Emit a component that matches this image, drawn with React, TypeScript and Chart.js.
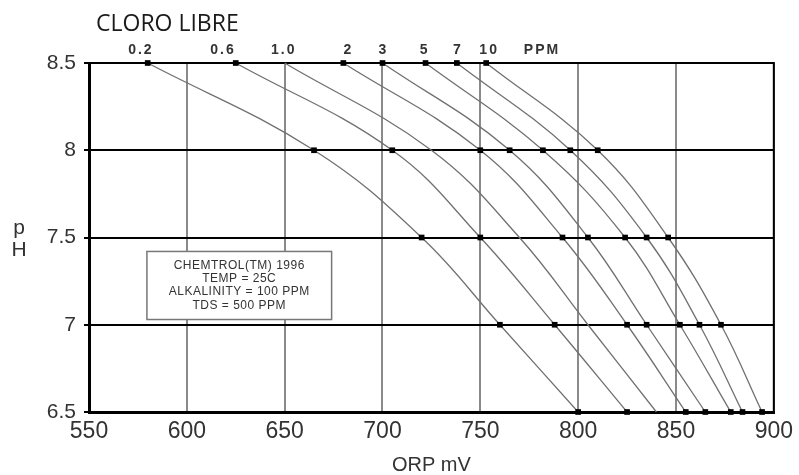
import React, { useEffect, useRef } from "react";
import { Chart, registerables } from "chart.js";

Chart.register(...registerables);

// pH rows (y) shared by every curve
const phLevels = [8.5, 8, 7.5, 7, 6.5];

// Free chlorine curves: ORP (mV) where each curve crosses each pH row
const seriesLabels = ["0.2", "0.6", "1.0", "2", "3", "5", "7", "10"];
const orp02 = [580, 665, 720, 760, 800];
const orp06 = [625, 705, 750, 788, 825];
const orp10 = [650, 725, 770, 805, 840];
const orp2 = [680, 750, 792, 825, 855];
const orp3 = [700, 765, 805, 835, 865];
const orp5 = [722, 782, 824, 852, 878];
const orp7 = [738, 796, 835, 862, 884];
const orp10ppm = [753, 810, 846, 873, 894];
const seriesValues = [orp02, orp06, orp10, orp2, orp3, orp5, orp7, orp10ppm];
const seriesMarked = [true, true, false, true, true, true, true, true];

// Top labels (ppm) and their ORP positions
const ppmTopLabels = ["0.2", "0.6", "1.0", "2", "3", "5", "7", "10", "PPM"];
const ppmTopX = [576, 618, 649, 682, 700, 721, 738, 754, 781];

// Axis ticks
const xMin = 550;
const xMax = 900;
const xStep = 50;
const yMin = 6.5;
const yMax = 8.5;
const yStep = 0.5;

const titleText = "CLORO LIBRE";
const xTitle = "ORP mV";
const yTitleLetters = ["p", "H"];
const noteLines = ["CHEMTROL(TM) 1996", "TEMP = 25C", "ALKALINITY = 100 PPM", "TDS = 500 PPM"];
// note box corners in data coordinates
const noteBoxX = [579.6, 674];
const noteBoxY = [7.42, 7.03];

export default function App() {
  const ref = useRef<HTMLCanvasElement | null>(null);

  useEffect(() => {
    const canvas = ref.current;
    if (!canvas) return;

    const decor = {
      id: "decor",
      beforeDatasetsDraw(chart: any) {
        const { ctx, chartArea } = chart;
        ctx.save();
        ctx.strokeStyle = "#000";
        ctx.lineWidth = 2;
        ctx.beginPath();
        ctx.moveTo(chartArea.left, chartArea.top);
        ctx.lineTo(chartArea.right, chartArea.top);
        ctx.lineTo(chartArea.right, chartArea.bottom);
        ctx.stroke();
        // note box
        const xs = chart.scales.x;
        const ys = chart.scales.y;
        const l = xs.getPixelForValue(noteBoxX[0]);
        const r = xs.getPixelForValue(noteBoxX[1]);
        const t = ys.getPixelForValue(noteBoxY[0]);
        const b = ys.getPixelForValue(noteBoxY[1]);
        ctx.fillStyle = "#fff";
        ctx.fillRect(l, t, r - l, b - t);
        ctx.strokeStyle = "#777";
        ctx.lineWidth = 1.5;
        ctx.strokeRect(l, t, r - l, b - t);
        ctx.fillStyle = "#333";
        ctx.font = "12px 'Liberation Sans', Arial, sans-serif";
        (ctx as any).letterSpacing = "0.5px";
        ctx.textAlign = "center";
        ctx.textBaseline = "middle";
        const cx = (l + r) / 2;
        const lh = 13.3;
        const startY = (t + b) / 2 - (lh * (noteLines.length - 1)) / 2;
        noteLines.forEach((s, i) => ctx.fillText(s, cx, startY + i * lh));
        ctx.restore();
      },
      afterDraw(chart: any) {
        const { ctx } = chart;
        const xs = chart.scales.x;
        ctx.save();
        ctx.fillStyle = "#1a1a1a";
        ctx.font = "23px 'Open Sans', sans-serif";
        ctx.textAlign = "left";
        ctx.textBaseline = "middle";
        ctx.fillText(titleText, 96, 24);

        ctx.fillStyle = "#333";
        ctx.font = "bold 14px 'Liberation Sans', Arial, sans-serif";
        (ctx as any).letterSpacing = "2px";
        ctx.textAlign = "center";
        ppmTopLabels.forEach((s, i) => {
          ctx.fillText(s, xs.getPixelForValue(ppmTopX[i]) + 1, 50);
        });

        (ctx as any).letterSpacing = "0px";
        ctx.font = "21px 'Liberation Sans', Arial, sans-serif";
        ctx.fillStyle = "#333";
        ctx.fillText(yTitleLetters[0], 19, 228);
        ctx.fillText(yTitleLetters[1], 19, 250);
        ctx.restore();
      },
    };

    const datasets = seriesLabels.map((label, i) => ({
      label,
      data: seriesValues[i].map((x, j) => ({ x, y: phLevels[j] })),
      borderColor: "#707070",
      borderWidth: 1.3,
      backgroundColor: "#000",
      pointBackgroundColor: "#000",
      pointBorderWidth: 0,
      pointStyle: "rect",
      pointRadius: seriesMarked[i] ? 4 : 0,
      tension: 0.4,
      clip: false as any,
    }));

    const chart = new Chart(canvas, {
      type: "line",
      data: { datasets },
      plugins: [decor],
      options: {
        responsive: false,
        animation: false,
        events: [],
        layout: { padding: { left: 0, top: 63, right: 23, bottom: 0 } },
        plugins: { legend: { display: false }, tooltip: { enabled: false } },
        scales: {
          x: {
            type: "linear",
            min: xMin,
            max: xMax,
            ticks: {
              stepSize: xStep,
              color: "#333",
              font: { family: "'Liberation Sans', Arial, sans-serif", size: 23 },
              padding: 6,
              maxRotation: 0,
            },
            grid: { color: "#8a8a8a", lineWidth: 2, drawTicks: false },
            border: { color: "#000", width: 3 },
            title: {
              display: true,
              text: xTitle,
              color: "#333",
              font: { family: "'Liberation Sans', Arial, sans-serif", size: 20, lineHeight: 1 },
              padding: { top: 0, bottom: 0 },
            },
            afterFit(scale: any) {
              scale.height = 63;
            },
          },
          y: {
            type: "linear",
            min: yMin,
            max: yMax,
            ticks: {
              stepSize: yStep,
              color: "#333",
              font: { family: "'Liberation Sans', Arial, sans-serif", size: 21 },
              padding: 8,
              callback: (v: any) => String(Number(v)),
            },
            grid: { color: "#000", lineWidth: 2, tickLength: 5 },
            border: { color: "#000", width: 3 },
            afterFit(scale: any) {
              scale.width = 89;
            },
          },
        },
      },
    });
    return () => chart.destroy();
  }, []);

  return (
    <div style={{ position: "absolute", left: 0, top: 0, width: 799, height: 475, background: "#fff" }}>
      <canvas ref={ref} width={799} height={475} />
    </div>
  );
}
